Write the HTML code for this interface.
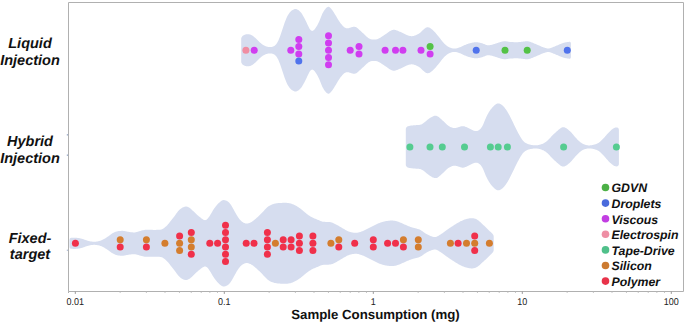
<!DOCTYPE html>
<html><head><meta charset="utf-8"><style>
html,body{margin:0;padding:0;background:#fff;}
body{width:685px;height:323px;overflow:hidden;}
svg{display:block;}
text{font-family:"Liberation Sans",sans-serif;text-rendering:geometricPrecision;}
.tk{font-size:9.9px;fill:#222;}
.lg{font-size:12.3px;font-weight:bold;font-style:italic;fill:#111;}
.yl text{font-size:14.5px;font-weight:bold;font-style:italic;fill:#111;}
.ti{font-size:13.25px;font-weight:bold;fill:#111;}
</style></head><body>
<svg width="685" height="323" viewBox="0 0 685 323">
<rect width="685" height="323" fill="#fff"/>
<path d="M241.20,38.61 L241.45,37.61 L241.70,37.13 L241.95,36.74 L242.20,36.40 L242.45,36.10 L242.70,35.85 L242.95,35.64 L243.20,35.42 L243.70,35.20 L244.20,34.99 L244.70,34.79 L245.20,34.60 L245.70,34.44 L246.20,34.32 L246.70,34.23 L247.20,34.18 L247.70,34.17 L248.20,34.19 L248.70,34.25 L249.20,34.34 L249.70,34.45 L250.20,34.58 L250.70,34.75 L251.20,34.95 L251.70,35.20 L252.20,35.48 L252.70,35.80 L253.20,36.16 L253.70,36.55 L254.20,36.97 L254.70,37.40 L255.20,37.86 L255.70,38.33 L256.20,38.82 L256.70,39.32 L257.20,39.82 L257.70,40.32 L258.20,40.82 L258.70,41.30 L259.20,41.77 L259.70,42.22 L260.20,42.67 L260.70,43.10 L261.20,43.51 L261.70,43.90 L262.20,44.27 L262.70,44.63 L263.20,44.96 L263.70,45.28 L264.20,45.56 L264.70,45.82 L265.20,46.04 L265.70,46.24 L266.20,46.42 L266.70,46.57 L267.20,46.70 L267.70,46.82 L268.20,46.91 L268.70,46.99 L269.20,47.04 L269.70,47.07 L270.20,47.07 L270.70,47.05 L271.20,47.00 L271.70,46.93 L272.20,46.83 L272.70,46.70 L273.20,46.54 L273.70,46.32 L274.20,46.04 L274.70,45.69 L275.20,45.27 L275.70,44.76 L276.20,44.17 L276.70,43.50 L277.20,42.73 L277.70,41.87 L278.20,40.89 L278.70,39.80 L279.20,38.61 L279.70,37.32 L280.20,35.95 L280.70,34.50 L281.20,33.01 L281.70,31.48 L282.20,29.94 L282.70,28.41 L283.20,26.89 L283.70,25.40 L284.20,23.95 L284.70,22.54 L285.20,21.19 L285.70,19.91 L286.20,18.69 L286.70,17.56 L287.20,16.52 L287.70,15.56 L288.20,14.68 L288.70,13.88 L289.20,13.15 L289.70,12.49 L290.20,11.91 L290.70,11.40 L291.20,10.95 L291.70,10.56 L292.20,10.21 L292.70,9.90 L293.20,9.63 L293.70,9.40 L294.20,9.22 L294.70,9.09 L295.20,9.02 L295.70,9.02 L296.20,9.08 L296.70,9.21 L297.20,9.40 L297.70,9.66 L298.20,9.96 L298.70,10.31 L299.20,10.70 L299.70,11.15 L300.20,11.65 L300.70,12.22 L301.20,12.86 L301.70,13.57 L302.20,14.35 L302.70,15.18 L303.20,16.04 L303.70,16.93 L304.20,17.85 L304.70,18.78 L305.20,19.73 L305.70,20.72 L306.20,21.75 L306.70,22.82 L307.20,23.90 L307.70,25.00 L308.20,26.07 L308.70,27.10 L309.20,28.05 L309.70,28.90 L310.20,29.62 L310.70,30.19 L311.20,30.60 L311.70,30.83 L312.20,30.90 L312.70,30.80 L313.20,30.56 L313.70,30.19 L314.20,29.72 L314.70,29.16 L315.20,28.52 L315.70,27.83 L316.20,27.08 L316.70,26.29 L317.20,25.45 L317.70,24.56 L318.20,23.60 L318.70,22.55 L319.20,21.43 L319.70,20.22 L320.20,18.96 L320.70,17.69 L321.20,16.43 L321.70,15.24 L322.20,14.12 L322.70,13.10 L323.20,12.18 L323.70,11.33 L324.20,10.55 L324.70,9.83 L325.20,9.17 L325.70,8.56 L326.20,8.02 L326.70,7.56 L327.20,7.20 L327.70,6.96 L328.20,6.83 L328.70,6.84 L329.20,6.99 L329.70,7.26 L330.20,7.66 L330.70,8.16 L331.20,8.75 L331.70,9.41 L332.20,10.11 L332.70,10.85 L333.20,11.60 L333.70,12.36 L334.20,13.12 L334.70,13.90 L335.20,14.70 L335.70,15.51 L336.20,16.35 L336.70,17.20 L337.20,18.07 L337.70,18.92 L338.20,19.76 L338.70,20.57 L339.20,21.35 L339.70,22.07 L340.20,22.76 L340.70,23.40 L341.20,24.02 L341.70,24.61 L342.20,25.18 L342.70,25.73 L343.20,26.25 L343.70,26.73 L344.20,27.16 L344.70,27.54 L345.20,27.85 L345.70,28.09 L346.20,28.25 L346.70,28.34 L347.20,28.37 L347.70,28.33 L348.20,28.26 L348.70,28.14 L349.20,28.00 L349.70,27.84 L350.20,27.67 L350.70,27.50 L351.20,27.32 L351.70,27.16 L352.20,27.01 L352.70,26.88 L353.20,26.79 L353.70,26.73 L354.20,26.72 L354.70,26.77 L355.20,26.88 L355.70,27.05 L356.20,27.28 L356.70,27.58 L357.20,27.92 L357.70,28.32 L358.20,28.74 L358.70,29.19 L359.20,29.66 L359.70,30.14 L360.20,30.62 L360.70,31.09 L361.20,31.55 L361.70,32.00 L362.20,32.44 L362.70,32.88 L363.20,33.33 L363.70,33.78 L364.20,34.25 L364.70,34.73 L365.20,35.21 L365.70,35.69 L366.20,36.17 L366.70,36.63 L367.20,37.08 L367.70,37.50 L368.20,37.89 L368.70,38.24 L369.20,38.55 L369.70,38.81 L370.20,39.03 L370.70,39.19 L371.20,39.31 L371.70,39.39 L372.20,39.44 L372.70,39.48 L373.20,39.50 L373.70,39.51 L374.20,39.52 L374.70,39.52 L375.20,39.51 L375.70,39.48 L376.20,39.42 L376.70,39.33 L377.20,39.20 L377.70,39.04 L378.20,38.83 L378.70,38.60 L379.20,38.33 L379.70,38.04 L380.20,37.73 L380.70,37.41 L381.20,37.07 L381.70,36.74 L382.20,36.41 L382.70,36.08 L383.20,35.75 L383.70,35.43 L384.20,35.11 L384.70,34.79 L385.20,34.45 L385.70,34.11 L386.20,33.75 L386.70,33.38 L387.20,33.01 L387.70,32.63 L388.20,32.26 L388.70,31.90 L389.20,31.55 L389.70,31.22 L390.20,30.91 L390.70,30.63 L391.20,30.39 L391.70,30.18 L392.20,30.01 L392.70,29.89 L393.20,29.82 L393.70,29.79 L394.20,29.80 L394.70,29.86 L395.20,29.95 L395.70,30.07 L396.20,30.22 L396.70,30.40 L397.20,30.58 L397.70,30.78 L398.20,30.99 L398.70,31.20 L399.20,31.42 L399.70,31.63 L400.20,31.86 L400.70,32.08 L401.20,32.32 L401.70,32.57 L402.20,32.82 L402.70,33.08 L403.20,33.35 L403.70,33.61 L404.20,33.87 L404.70,34.12 L405.20,34.35 L405.70,34.58 L406.20,34.79 L406.70,34.98 L407.20,35.16 L407.70,35.33 L408.20,35.50 L408.70,35.65 L409.20,35.79 L409.70,35.91 L410.20,36.01 L410.70,36.08 L411.20,36.13 L411.70,36.15 L412.20,36.13 L412.70,36.08 L413.20,36.00 L413.70,35.89 L414.20,35.75 L414.70,35.59 L415.20,35.42 L415.70,35.22 L416.20,35.02 L416.70,34.80 L417.20,34.57 L417.70,34.33 L418.20,34.06 L418.70,33.76 L419.20,33.43 L419.70,33.06 L420.20,32.65 L420.70,32.22 L421.20,31.76 L421.70,31.29 L422.20,30.80 L422.70,30.32 L423.20,29.84 L423.70,29.38 L424.20,28.95 L424.70,28.54 L425.20,28.18 L425.70,27.87 L426.20,27.61 L426.70,27.41 L427.20,27.29 L427.70,27.24 L428.20,27.27 L428.70,27.38 L429.20,27.55 L429.70,27.79 L430.20,28.08 L430.70,28.42 L431.20,28.79 L431.70,29.19 L432.20,29.60 L432.70,30.04 L433.20,30.49 L433.70,30.96 L434.20,31.45 L434.70,31.97 L435.20,32.52 L435.70,33.09 L436.20,33.68 L436.70,34.27 L437.20,34.88 L437.70,35.48 L438.20,36.09 L438.70,36.71 L439.20,37.33 L439.70,37.97 L440.20,38.61 L440.70,39.25 L441.20,39.89 L441.70,40.53 L442.20,41.15 L442.70,41.76 L443.20,42.35 L443.70,42.90 L444.20,43.43 L444.70,43.93 L445.20,44.41 L445.70,44.86 L446.20,45.29 L446.70,45.69 L447.20,46.07 L447.70,46.42 L448.20,46.74 L448.70,47.03 L449.20,47.28 L449.70,47.50 L450.20,47.70 L450.70,47.87 L451.20,48.03 L451.70,48.17 L452.20,48.29 L452.70,48.39 L453.20,48.47 L453.70,48.53 L454.20,48.55 L454.70,48.55 L455.20,48.52 L455.70,48.46 L456.20,48.38 L456.70,48.27 L457.20,48.14 L457.70,48.00 L458.20,47.84 L458.70,47.68 L459.20,47.51 L459.70,47.34 L460.20,47.15 L460.70,46.96 L461.20,46.76 L461.70,46.55 L462.20,46.32 L462.70,46.09 L463.20,45.85 L463.70,45.60 L464.20,45.35 L464.70,45.11 L465.20,44.88 L465.70,44.65 L466.20,44.43 L466.70,44.23 L467.20,44.05 L467.70,43.88 L468.20,43.72 L468.70,43.58 L469.20,43.44 L469.70,43.30 L470.20,43.17 L470.70,43.05 L471.20,42.93 L471.70,42.81 L472.20,42.71 L472.70,42.61 L473.20,42.52 L473.70,42.44 L474.20,42.37 L474.70,42.32 L475.20,42.28 L475.70,42.26 L476.20,42.26 L476.70,42.27 L477.20,42.31 L477.70,42.36 L478.20,42.43 L478.70,42.51 L479.20,42.60 L479.70,42.71 L480.20,42.82 L480.70,42.94 L481.20,43.07 L481.70,43.21 L482.20,43.35 L482.70,43.52 L483.20,43.70 L483.70,43.89 L484.20,44.09 L484.70,44.30 L485.20,44.50 L485.70,44.70 L486.20,44.88 L486.70,45.03 L487.20,45.15 L487.70,45.23 L488.20,45.28 L488.70,45.29 L489.20,45.26 L489.70,45.21 L490.20,45.12 L490.70,45.02 L491.20,44.90 L491.70,44.77 L492.20,44.63 L492.70,44.48 L493.20,44.33 L493.70,44.18 L494.20,44.03 L494.70,43.89 L495.20,43.74 L495.70,43.59 L496.20,43.44 L496.70,43.28 L497.20,43.11 L497.70,42.94 L498.20,42.77 L498.70,42.60 L499.20,42.43 L499.70,42.26 L500.20,42.10 L500.70,41.95 L501.20,41.80 L501.70,41.67 L502.20,41.56 L502.70,41.46 L503.20,41.38 L503.70,41.32 L504.20,41.28 L504.70,41.27 L505.20,41.28 L505.70,41.31 L506.20,41.36 L506.70,41.42 L507.20,41.49 L507.70,41.57 L508.20,41.66 L508.70,41.74 L509.20,41.82 L509.70,41.89 L510.20,41.95 L510.70,42.00 L511.20,42.03 L511.70,42.06 L512.20,42.09 L512.70,42.11 L513.20,42.12 L513.70,42.14 L514.20,42.15 L514.70,42.16 L515.20,42.17 L515.70,42.18 L516.20,42.18 L516.70,42.18 L517.20,42.18 L517.70,42.17 L518.20,42.14 L518.70,42.11 L519.20,42.07 L519.70,42.02 L520.20,41.97 L520.70,41.91 L521.20,41.85 L521.70,41.79 L522.20,41.72 L522.70,41.66 L523.20,41.60 L523.70,41.53 L524.20,41.47 L524.70,41.41 L525.20,41.36 L525.70,41.31 L526.20,41.28 L526.70,41.27 L527.20,41.27 L527.70,41.30 L528.20,41.36 L528.70,41.44 L529.20,41.55 L529.70,41.68 L530.20,41.83 L530.70,42.00 L531.20,42.19 L531.70,42.38 L532.20,42.59 L532.70,42.79 L533.20,43.00 L533.70,43.21 L534.20,43.42 L534.70,43.63 L535.20,43.83 L535.70,44.04 L536.20,44.25 L536.70,44.46 L537.20,44.68 L537.70,44.90 L538.20,45.13 L538.70,45.36 L539.20,45.59 L539.70,45.81 L540.20,46.04 L540.70,46.26 L541.20,46.47 L541.70,46.68 L542.20,46.88 L542.70,47.07 L543.20,47.26 L543.70,47.44 L544.20,47.62 L544.70,47.79 L545.20,47.96 L545.70,48.11 L546.20,48.24 L546.70,48.35 L547.20,48.43 L547.70,48.47 L548.20,48.48 L548.70,48.45 L549.20,48.38 L549.70,48.28 L550.20,48.15 L550.70,48.00 L551.20,47.83 L551.70,47.65 L552.20,47.46 L552.70,47.26 L553.20,47.06 L553.70,46.87 L554.20,46.67 L554.70,46.47 L555.20,46.26 L555.70,46.05 L556.20,45.83 L556.70,45.61 L557.20,45.38 L557.70,45.16 L558.20,44.93 L558.70,44.71 L559.20,44.50 L559.70,44.29 L560.20,44.09 L560.70,43.89 L561.20,43.71 L561.70,43.53 L562.20,43.35 L562.70,43.18 L563.20,43.02 L563.70,42.86 L564.20,42.71 L564.70,42.58 L565.20,42.45 L565.70,42.34 L566.20,42.24 L566.70,42.15 L567.20,42.07 L567.70,41.99 L568.20,41.93 L568.70,41.88 L568.90,41.83 L569.15,41.79 L569.40,41.77 L569.65,41.78 L569.90,41.83 L570.15,41.94 L570.40,42.12 L570.65,42.41 L570.90,43.26 L570.90,57.24 L570.65,58.09 L570.40,58.38 L570.15,58.56 L569.90,58.67 L569.65,58.72 L569.40,58.73 L569.15,58.71 L568.90,58.67 L568.70,58.62 L568.20,58.57 L567.70,58.51 L567.20,58.43 L566.70,58.35 L566.20,58.26 L565.70,58.16 L565.20,58.05 L564.70,57.92 L564.20,57.79 L563.70,57.64 L563.20,57.48 L562.70,57.32 L562.20,57.15 L561.70,56.97 L561.20,56.79 L560.70,56.61 L560.20,56.41 L559.70,56.21 L559.20,56.00 L558.70,55.79 L558.20,55.57 L557.70,55.34 L557.20,55.12 L556.70,54.89 L556.20,54.67 L555.70,54.45 L555.20,54.24 L554.70,54.03 L554.20,53.83 L553.70,53.63 L553.20,53.44 L552.70,53.24 L552.20,53.04 L551.70,52.85 L551.20,52.67 L550.70,52.50 L550.20,52.35 L549.70,52.22 L549.20,52.12 L548.70,52.05 L548.20,52.02 L547.70,52.03 L547.20,52.07 L546.70,52.15 L546.20,52.26 L545.70,52.39 L545.20,52.54 L544.70,52.71 L544.20,52.88 L543.70,53.06 L543.20,53.24 L542.70,53.43 L542.20,53.62 L541.70,53.82 L541.20,54.03 L540.70,54.24 L540.20,54.46 L539.70,54.69 L539.20,54.91 L538.70,55.14 L538.20,55.37 L537.70,55.60 L537.20,55.82 L536.70,56.04 L536.20,56.25 L535.70,56.46 L535.20,56.67 L534.70,56.87 L534.20,57.08 L533.70,57.29 L533.20,57.50 L532.70,57.71 L532.20,57.91 L531.70,58.12 L531.20,58.31 L530.70,58.50 L530.20,58.67 L529.70,58.82 L529.20,58.95 L528.70,59.06 L528.20,59.14 L527.70,59.20 L527.20,59.23 L526.70,59.23 L526.20,59.22 L525.70,59.19 L525.20,59.14 L524.70,59.09 L524.20,59.03 L523.70,58.97 L523.20,58.90 L522.70,58.84 L522.20,58.78 L521.70,58.71 L521.20,58.65 L520.70,58.59 L520.20,58.53 L519.70,58.48 L519.20,58.43 L518.70,58.39 L518.20,58.36 L517.70,58.33 L517.20,58.32 L516.70,58.32 L516.20,58.32 L515.70,58.32 L515.20,58.33 L514.70,58.34 L514.20,58.35 L513.70,58.36 L513.20,58.38 L512.70,58.39 L512.20,58.41 L511.70,58.44 L511.20,58.47 L510.70,58.50 L510.20,58.55 L509.70,58.61 L509.20,58.68 L508.70,58.76 L508.20,58.84 L507.70,58.93 L507.20,59.01 L506.70,59.08 L506.20,59.14 L505.70,59.19 L505.20,59.22 L504.70,59.23 L504.20,59.22 L503.70,59.18 L503.20,59.12 L502.70,59.04 L502.20,58.94 L501.70,58.83 L501.20,58.70 L500.70,58.55 L500.20,58.40 L499.70,58.24 L499.20,58.07 L498.70,57.90 L498.20,57.73 L497.70,57.56 L497.20,57.39 L496.70,57.22 L496.20,57.06 L495.70,56.91 L495.20,56.76 L494.70,56.61 L494.20,56.47 L493.70,56.32 L493.20,56.17 L492.70,56.02 L492.20,55.87 L491.70,55.73 L491.20,55.60 L490.70,55.48 L490.20,55.38 L489.70,55.29 L489.20,55.24 L488.70,55.21 L488.20,55.22 L487.70,55.27 L487.20,55.35 L486.70,55.47 L486.20,55.62 L485.70,55.80 L485.20,56.00 L484.70,56.20 L484.20,56.41 L483.70,56.61 L483.20,56.80 L482.70,56.98 L482.20,57.15 L481.70,57.29 L481.20,57.43 L480.70,57.56 L480.20,57.68 L479.70,57.79 L479.20,57.90 L478.70,57.99 L478.20,58.07 L477.70,58.14 L477.20,58.19 L476.70,58.23 L476.20,58.24 L475.70,58.24 L475.20,58.22 L474.70,58.18 L474.20,58.13 L473.70,58.06 L473.20,57.98 L472.70,57.89 L472.20,57.79 L471.70,57.69 L471.20,57.57 L470.70,57.45 L470.20,57.33 L469.70,57.20 L469.20,57.06 L468.70,56.92 L468.20,56.78 L467.70,56.62 L467.20,56.45 L466.70,56.27 L466.20,56.07 L465.70,55.85 L465.20,55.62 L464.70,55.39 L464.20,55.15 L463.70,54.90 L463.20,54.65 L462.70,54.41 L462.20,54.18 L461.70,53.95 L461.20,53.74 L460.70,53.54 L460.20,53.35 L459.70,53.16 L459.20,52.99 L458.70,52.82 L458.20,52.66 L457.70,52.50 L457.20,52.36 L456.70,52.23 L456.20,52.12 L455.70,52.04 L455.20,51.98 L454.70,51.95 L454.20,51.95 L453.70,51.97 L453.20,52.03 L452.70,52.11 L452.20,52.21 L451.70,52.33 L451.20,52.47 L450.70,52.63 L450.20,52.80 L449.70,53.00 L449.20,53.22 L448.70,53.47 L448.20,53.76 L447.70,54.08 L447.20,54.43 L446.70,54.81 L446.20,55.21 L445.70,55.64 L445.20,56.09 L444.70,56.57 L444.20,57.07 L443.70,57.60 L443.20,58.15 L442.70,58.74 L442.20,59.35 L441.70,59.97 L441.20,60.61 L440.70,61.25 L440.20,61.89 L439.70,62.53 L439.20,63.17 L438.70,63.79 L438.20,64.41 L437.70,65.02 L437.20,65.62 L436.70,66.23 L436.20,66.82 L435.70,67.41 L435.20,67.98 L434.70,68.53 L434.20,69.05 L433.70,69.54 L433.20,70.01 L432.70,70.46 L432.20,70.90 L431.70,71.31 L431.20,71.71 L430.70,72.08 L430.20,72.42 L429.70,72.71 L429.20,72.95 L428.70,73.12 L428.20,73.23 L427.70,73.26 L427.20,73.21 L426.70,73.09 L426.20,72.89 L425.70,72.63 L425.20,72.32 L424.70,71.96 L424.20,71.55 L423.70,71.12 L423.20,70.66 L422.70,70.18 L422.20,69.70 L421.70,69.21 L421.20,68.74 L420.70,68.28 L420.20,67.85 L419.70,67.44 L419.20,67.07 L418.70,66.74 L418.20,66.44 L417.70,66.17 L417.20,65.93 L416.70,65.70 L416.20,65.48 L415.70,65.28 L415.20,65.08 L414.70,64.91 L414.20,64.75 L413.70,64.61 L413.20,64.50 L412.70,64.42 L412.20,64.37 L411.70,64.35 L411.20,64.37 L410.70,64.42 L410.20,64.49 L409.70,64.59 L409.20,64.71 L408.70,64.85 L408.20,65.00 L407.70,65.17 L407.20,65.34 L406.70,65.52 L406.20,65.71 L405.70,65.92 L405.20,66.15 L404.70,66.38 L404.20,66.63 L403.70,66.89 L403.20,67.15 L402.70,67.42 L402.20,67.68 L401.70,67.93 L401.20,68.18 L400.70,68.42 L400.20,68.64 L399.70,68.87 L399.20,69.08 L398.70,69.30 L398.20,69.51 L397.70,69.72 L397.20,69.92 L396.70,70.10 L396.20,70.28 L395.70,70.43 L395.20,70.55 L394.70,70.64 L394.20,70.70 L393.70,70.71 L393.20,70.68 L392.70,70.61 L392.20,70.49 L391.70,70.32 L391.20,70.11 L390.70,69.87 L390.20,69.59 L389.70,69.28 L389.20,68.95 L388.70,68.60 L388.20,68.24 L387.70,67.87 L387.20,67.49 L386.70,67.12 L386.20,66.75 L385.70,66.39 L385.20,66.05 L384.70,65.71 L384.20,65.39 L383.70,65.07 L383.20,64.75 L382.70,64.42 L382.20,64.09 L381.70,63.76 L381.20,63.43 L380.70,63.09 L380.20,62.77 L379.70,62.46 L379.20,62.17 L378.70,61.90 L378.20,61.67 L377.70,61.46 L377.20,61.30 L376.70,61.17 L376.20,61.08 L375.70,61.02 L375.20,60.99 L374.70,60.98 L374.20,60.98 L373.70,60.99 L373.20,61.00 L372.70,61.02 L372.20,61.06 L371.70,61.11 L371.20,61.19 L370.70,61.31 L370.20,61.47 L369.70,61.69 L369.20,61.95 L368.70,62.26 L368.20,62.61 L367.70,63.00 L367.20,63.42 L366.70,63.87 L366.20,64.33 L365.70,64.81 L365.20,65.29 L364.70,65.77 L364.20,66.25 L363.70,66.72 L363.20,67.17 L362.70,67.62 L362.20,68.06 L361.70,68.50 L361.20,68.95 L360.70,69.41 L360.20,69.88 L359.70,70.36 L359.20,70.84 L358.70,71.31 L358.20,71.76 L357.70,72.18 L357.20,72.58 L356.70,72.92 L356.20,73.22 L355.70,73.45 L355.20,73.62 L354.70,73.73 L354.20,73.78 L353.70,73.77 L353.20,73.71 L352.70,73.62 L352.20,73.49 L351.70,73.34 L351.20,73.18 L350.70,73.00 L350.20,72.83 L349.70,72.66 L349.20,72.50 L348.70,72.36 L348.20,72.24 L347.70,72.17 L347.20,72.13 L346.70,72.16 L346.20,72.25 L345.70,72.41 L345.20,72.65 L344.70,72.96 L344.20,73.34 L343.70,73.77 L343.20,74.25 L342.70,74.77 L342.20,75.32 L341.70,75.89 L341.20,76.48 L340.70,77.10 L340.20,77.74 L339.70,78.43 L339.20,79.15 L338.70,79.93 L338.20,80.74 L337.70,81.58 L337.20,82.43 L336.70,83.30 L336.20,84.15 L335.70,84.99 L335.20,85.80 L334.70,86.60 L334.20,87.38 L333.70,88.14 L333.20,88.90 L332.70,89.65 L332.20,90.39 L331.70,91.09 L331.20,91.75 L330.70,92.34 L330.20,92.84 L329.70,93.24 L329.20,93.51 L328.70,93.66 L328.20,93.67 L327.70,93.54 L327.20,93.30 L326.70,92.94 L326.20,92.48 L325.70,91.94 L325.20,91.33 L324.70,90.67 L324.20,89.95 L323.70,89.17 L323.20,88.32 L322.70,87.40 L322.20,86.38 L321.70,85.26 L321.20,84.07 L320.70,82.81 L320.20,81.54 L319.70,80.28 L319.20,79.07 L318.70,77.95 L318.20,76.90 L317.70,75.94 L317.20,75.05 L316.70,74.21 L316.20,73.42 L315.70,72.67 L315.20,71.98 L314.70,71.34 L314.20,70.78 L313.70,70.31 L313.20,69.94 L312.70,69.70 L312.20,69.60 L311.70,69.67 L311.20,69.90 L310.70,70.31 L310.20,70.88 L309.70,71.60 L309.20,72.45 L308.70,73.40 L308.20,74.43 L307.70,75.50 L307.20,76.60 L306.70,77.68 L306.20,78.75 L305.70,79.78 L305.20,80.77 L304.70,81.72 L304.20,82.65 L303.70,83.57 L303.20,84.46 L302.70,85.32 L302.20,86.15 L301.70,86.93 L301.20,87.64 L300.70,88.28 L300.20,88.85 L299.70,89.35 L299.20,89.80 L298.70,90.19 L298.20,90.54 L297.70,90.84 L297.20,91.10 L296.70,91.29 L296.20,91.42 L295.70,91.48 L295.20,91.48 L294.70,91.41 L294.20,91.28 L293.70,91.10 L293.20,90.87 L292.70,90.60 L292.20,90.29 L291.70,89.94 L291.20,89.55 L290.70,89.10 L290.20,88.59 L289.70,88.01 L289.20,87.35 L288.70,86.62 L288.20,85.82 L287.70,84.94 L287.20,83.98 L286.70,82.94 L286.20,81.81 L285.70,80.59 L285.20,79.31 L284.70,77.96 L284.20,76.55 L283.70,75.10 L283.20,73.61 L282.70,72.09 L282.20,70.56 L281.70,69.02 L281.20,67.49 L280.70,66.00 L280.20,64.55 L279.70,63.18 L279.20,61.89 L278.70,60.70 L278.20,59.61 L277.70,58.63 L277.20,57.77 L276.70,57.00 L276.20,56.33 L275.70,55.74 L275.20,55.23 L274.70,54.81 L274.20,54.46 L273.70,54.18 L273.20,53.96 L272.70,53.80 L272.20,53.67 L271.70,53.57 L271.20,53.50 L270.70,53.45 L270.20,53.43 L269.70,53.43 L269.20,53.46 L268.70,53.51 L268.20,53.59 L267.70,53.68 L267.20,53.80 L266.70,53.93 L266.20,54.08 L265.70,54.26 L265.20,54.46 L264.70,54.68 L264.20,54.94 L263.70,55.22 L263.20,55.54 L262.70,55.87 L262.20,56.23 L261.70,56.60 L261.20,56.99 L260.70,57.40 L260.20,57.83 L259.70,58.28 L259.20,58.73 L258.70,59.20 L258.20,59.68 L257.70,60.18 L257.20,60.68 L256.70,61.18 L256.20,61.68 L255.70,62.17 L255.20,62.64 L254.70,63.10 L254.20,63.53 L253.70,63.95 L253.20,64.34 L252.70,64.70 L252.20,65.02 L251.70,65.30 L251.20,65.55 L250.70,65.75 L250.20,65.92 L249.70,66.05 L249.20,66.16 L248.70,66.25 L248.20,66.31 L247.70,66.33 L247.20,66.32 L246.70,66.27 L246.20,66.18 L245.70,66.06 L245.20,65.90 L244.70,65.71 L244.20,65.51 L243.70,65.30 L243.20,65.08 L242.95,64.86 L242.70,64.65 L242.45,64.40 L242.20,64.10 L241.95,63.76 L241.70,63.37 L241.45,62.89 L241.20,61.89Z" fill="#d6ddef"/>
<path d="M405.80,128.86 L406.05,127.92 L406.30,127.51 L406.55,127.19 L406.80,126.93 L407.05,126.72 L407.30,126.55 L407.55,126.41 L407.80,126.27 L408.30,126.13 L408.80,126.01 L409.30,125.89 L409.80,125.79 L410.30,125.70 L410.80,125.62 L411.30,125.55 L411.80,125.49 L412.30,125.44 L412.80,125.38 L413.30,125.34 L413.80,125.29 L414.30,125.25 L414.80,125.22 L415.30,125.18 L415.80,125.15 L416.30,125.12 L416.80,125.10 L417.30,125.07 L417.80,125.03 L418.30,125.00 L418.80,124.95 L419.30,124.90 L419.80,124.82 L420.30,124.72 L420.80,124.58 L421.30,124.40 L421.80,124.17 L422.30,123.89 L422.80,123.57 L423.30,123.21 L423.80,122.83 L424.30,122.44 L424.80,122.04 L425.30,121.64 L425.80,121.23 L426.30,120.82 L426.80,120.41 L427.30,119.99 L427.80,119.58 L428.30,119.18 L428.80,118.80 L429.30,118.43 L429.80,118.09 L430.30,117.77 L430.80,117.47 L431.30,117.18 L431.80,116.91 L432.30,116.65 L432.80,116.41 L433.30,116.20 L433.80,116.01 L434.30,115.86 L434.80,115.76 L435.30,115.70 L435.80,115.71 L436.30,115.78 L436.80,115.92 L437.30,116.13 L437.80,116.40 L438.30,116.73 L438.80,117.10 L439.30,117.51 L439.80,117.94 L440.30,118.38 L440.80,118.83 L441.30,119.28 L441.80,119.73 L442.30,120.18 L442.80,120.63 L443.30,121.10 L443.80,121.57 L444.30,122.06 L444.80,122.56 L445.30,123.06 L445.80,123.55 L446.30,124.03 L446.80,124.49 L447.30,124.93 L447.80,125.34 L448.30,125.71 L448.80,126.05 L449.30,126.36 L449.80,126.65 L450.30,126.90 L450.80,127.14 L451.30,127.36 L451.80,127.56 L452.30,127.73 L452.80,127.87 L453.30,127.98 L453.80,128.04 L454.30,128.07 L454.80,128.06 L455.30,128.01 L455.80,127.93 L456.30,127.83 L456.80,127.71 L457.30,127.58 L457.80,127.43 L458.30,127.28 L458.80,127.12 L459.30,126.96 L459.80,126.79 L460.30,126.62 L460.80,126.47 L461.30,126.34 L461.80,126.23 L462.30,126.17 L462.80,126.15 L463.30,126.17 L463.80,126.25 L464.30,126.36 L464.80,126.51 L465.30,126.69 L465.80,126.90 L466.30,127.12 L466.80,127.36 L467.30,127.60 L467.80,127.84 L468.30,128.07 L468.80,128.31 L469.30,128.54 L469.80,128.77 L470.30,129.01 L470.80,129.25 L471.30,129.50 L471.80,129.74 L472.30,129.98 L472.80,130.22 L473.30,130.44 L473.80,130.64 L474.30,130.81 L474.80,130.95 L475.30,131.06 L475.80,131.11 L476.30,131.12 L476.80,131.07 L477.30,130.95 L477.80,130.77 L478.30,130.52 L478.80,130.21 L479.30,129.85 L479.80,129.44 L480.30,128.97 L480.80,128.43 L481.30,127.82 L481.80,127.10 L482.30,126.26 L482.80,125.30 L483.30,124.22 L483.80,123.05 L484.30,121.82 L484.80,120.58 L485.30,119.35 L485.80,118.17 L486.30,117.05 L486.80,116.00 L487.30,115.01 L487.80,114.07 L488.30,113.18 L488.80,112.33 L489.30,111.52 L489.80,110.75 L490.30,110.04 L490.80,109.36 L491.30,108.74 L491.80,108.14 L492.30,107.58 L492.80,107.04 L493.30,106.52 L493.80,106.02 L494.30,105.55 L494.80,105.10 L495.30,104.69 L495.80,104.33 L496.30,104.02 L496.80,103.77 L497.30,103.59 L497.80,103.47 L498.30,103.44 L498.80,103.47 L499.30,103.58 L499.80,103.76 L500.30,103.99 L500.80,104.27 L501.30,104.59 L501.80,104.95 L502.30,105.34 L502.80,105.78 L503.30,106.25 L503.80,106.78 L504.30,107.35 L504.80,107.97 L505.30,108.63 L505.80,109.32 L506.30,110.05 L506.80,110.81 L507.30,111.59 L507.80,112.42 L508.30,113.27 L508.80,114.16 L509.30,115.09 L509.80,116.04 L510.30,117.01 L510.80,118.00 L511.30,119.00 L511.80,120.01 L512.30,121.03 L512.80,122.06 L513.30,123.09 L513.80,124.13 L514.30,125.17 L514.80,126.20 L515.30,127.24 L515.80,128.26 L516.30,129.26 L516.80,130.26 L517.30,131.24 L517.80,132.20 L518.30,133.15 L518.80,134.07 L519.30,134.97 L519.80,135.86 L520.30,136.72 L520.80,137.56 L521.30,138.37 L521.80,139.14 L522.30,139.86 L522.80,140.51 L523.30,141.09 L523.80,141.60 L524.30,142.03 L524.80,142.41 L525.30,142.75 L525.80,143.05 L526.30,143.33 L526.80,143.58 L527.30,143.80 L527.80,144.01 L528.30,144.19 L528.80,144.35 L529.30,144.49 L529.80,144.62 L530.30,144.73 L530.80,144.83 L531.30,144.92 L531.80,145.00 L532.30,145.07 L532.80,145.14 L533.30,145.20 L533.80,145.25 L534.30,145.30 L534.80,145.33 L535.30,145.34 L535.80,145.35 L536.30,145.33 L536.80,145.30 L537.30,145.24 L537.80,145.17 L538.30,145.08 L538.80,144.97 L539.30,144.85 L539.80,144.72 L540.30,144.58 L540.80,144.43 L541.30,144.26 L541.80,144.08 L542.30,143.88 L542.80,143.67 L543.30,143.43 L543.80,143.18 L544.30,142.90 L544.80,142.61 L545.30,142.29 L545.80,141.95 L546.30,141.57 L546.80,141.17 L547.30,140.73 L547.80,140.25 L548.30,139.76 L548.80,139.24 L549.30,138.71 L549.80,138.18 L550.30,137.65 L550.80,137.13 L551.30,136.61 L551.80,136.10 L552.30,135.60 L552.80,135.09 L553.30,134.59 L553.80,134.10 L554.30,133.61 L554.80,133.14 L555.30,132.68 L555.80,132.22 L556.30,131.78 L556.80,131.34 L557.30,130.90 L557.80,130.47 L558.30,130.03 L558.80,129.60 L559.30,129.18 L559.80,128.78 L560.30,128.41 L560.80,128.07 L561.30,127.78 L561.80,127.55 L562.30,127.37 L562.80,127.26 L563.30,127.21 L563.80,127.24 L564.30,127.33 L564.80,127.48 L565.30,127.69 L565.80,127.95 L566.30,128.26 L566.80,128.60 L567.30,128.97 L567.80,129.37 L568.30,129.78 L568.80,130.21 L569.30,130.65 L569.80,131.10 L570.30,131.57 L570.80,132.06 L571.30,132.58 L571.80,133.12 L572.30,133.68 L572.80,134.27 L573.30,134.86 L573.80,135.46 L574.30,136.05 L574.80,136.63 L575.30,137.20 L575.80,137.77 L576.30,138.32 L576.80,138.86 L577.30,139.39 L577.80,139.90 L578.30,140.39 L578.80,140.87 L579.30,141.31 L579.80,141.73 L580.30,142.13 L580.80,142.51 L581.30,142.86 L581.80,143.19 L582.30,143.50 L582.80,143.78 L583.30,144.03 L583.80,144.25 L584.30,144.45 L584.80,144.62 L585.30,144.78 L585.80,144.92 L586.30,145.05 L586.80,145.17 L587.30,145.26 L587.80,145.34 L588.30,145.39 L588.80,145.42 L589.30,145.42 L589.80,145.40 L590.30,145.36 L590.80,145.30 L591.30,145.22 L591.80,145.13 L592.30,145.04 L592.80,144.93 L593.30,144.82 L593.80,144.71 L594.30,144.59 L594.80,144.46 L595.30,144.32 L595.80,144.16 L596.30,143.99 L596.80,143.80 L597.30,143.58 L597.80,143.34 L598.30,143.05 L598.80,142.73 L599.30,142.37 L599.80,141.97 L600.30,141.53 L600.80,141.07 L601.30,140.59 L601.80,140.10 L602.30,139.59 L602.80,139.07 L603.30,138.54 L603.80,138.00 L604.30,137.45 L604.80,136.88 L605.30,136.30 L605.80,135.71 L606.30,135.13 L606.80,134.56 L607.30,134.00 L607.80,133.45 L608.30,132.91 L608.80,132.39 L609.30,131.88 L609.80,131.39 L610.30,130.91 L610.80,130.46 L611.30,130.02 L611.80,129.60 L612.30,129.20 L612.80,128.82 L613.30,128.46 L613.80,128.15 L614.30,127.88 L614.80,127.68 L615.30,127.53 L615.80,127.45 L616.30,127.41 L616.80,127.41 L616.90,127.44 L617.15,127.48 L617.40,127.55 L617.65,127.66 L617.90,127.82 L618.15,128.05 L618.40,128.34 L618.65,128.73 L618.90,129.67 L618.90,164.13 L618.65,165.07 L618.40,165.46 L618.15,165.75 L617.90,165.98 L617.65,166.14 L617.40,166.25 L617.15,166.32 L616.90,166.36 L616.80,166.39 L616.30,166.39 L615.80,166.35 L615.30,166.27 L614.80,166.12 L614.30,165.92 L613.80,165.65 L613.30,165.34 L612.80,164.98 L612.30,164.60 L611.80,164.20 L611.30,163.78 L610.80,163.34 L610.30,162.89 L609.80,162.41 L609.30,161.92 L608.80,161.41 L608.30,160.89 L607.80,160.35 L607.30,159.80 L606.80,159.24 L606.30,158.67 L605.80,158.09 L605.30,157.50 L604.80,156.92 L604.30,156.35 L603.80,155.80 L603.30,155.26 L602.80,154.73 L602.30,154.21 L601.80,153.70 L601.30,153.21 L600.80,152.73 L600.30,152.27 L599.80,151.83 L599.30,151.43 L598.80,151.07 L598.30,150.75 L597.80,150.46 L597.30,150.22 L596.80,150.00 L596.30,149.81 L595.80,149.64 L595.30,149.48 L594.80,149.34 L594.30,149.21 L593.80,149.09 L593.30,148.98 L592.80,148.87 L592.30,148.76 L591.80,148.67 L591.30,148.58 L590.80,148.50 L590.30,148.44 L589.80,148.40 L589.30,148.38 L588.80,148.38 L588.30,148.41 L587.80,148.46 L587.30,148.54 L586.80,148.63 L586.30,148.75 L585.80,148.88 L585.30,149.02 L584.80,149.18 L584.30,149.35 L583.80,149.55 L583.30,149.77 L582.80,150.02 L582.30,150.30 L581.80,150.61 L581.30,150.94 L580.80,151.29 L580.30,151.67 L579.80,152.07 L579.30,152.49 L578.80,152.93 L578.30,153.41 L577.80,153.90 L577.30,154.41 L576.80,154.94 L576.30,155.48 L575.80,156.03 L575.30,156.60 L574.80,157.17 L574.30,157.75 L573.80,158.34 L573.30,158.94 L572.80,159.53 L572.30,160.12 L571.80,160.68 L571.30,161.22 L570.80,161.74 L570.30,162.23 L569.80,162.70 L569.30,163.15 L568.80,163.59 L568.30,164.02 L567.80,164.43 L567.30,164.83 L566.80,165.20 L566.30,165.54 L565.80,165.85 L565.30,166.11 L564.80,166.32 L564.30,166.47 L563.80,166.56 L563.30,166.59 L562.80,166.54 L562.30,166.43 L561.80,166.25 L561.30,166.02 L560.80,165.73 L560.30,165.39 L559.80,165.02 L559.30,164.62 L558.80,164.20 L558.30,163.77 L557.80,163.33 L557.30,162.90 L556.80,162.46 L556.30,162.02 L555.80,161.58 L555.30,161.12 L554.80,160.66 L554.30,160.19 L553.80,159.70 L553.30,159.21 L552.80,158.71 L552.30,158.20 L551.80,157.70 L551.30,157.19 L550.80,156.67 L550.30,156.15 L549.80,155.62 L549.30,155.09 L548.80,154.56 L548.30,154.04 L547.80,153.55 L547.30,153.07 L546.80,152.63 L546.30,152.23 L545.80,151.85 L545.30,151.51 L544.80,151.19 L544.30,150.90 L543.80,150.62 L543.30,150.37 L542.80,150.13 L542.30,149.92 L541.80,149.72 L541.30,149.54 L540.80,149.37 L540.30,149.22 L539.80,149.08 L539.30,148.95 L538.80,148.83 L538.30,148.72 L537.80,148.63 L537.30,148.56 L536.80,148.50 L536.30,148.47 L535.80,148.45 L535.30,148.46 L534.80,148.47 L534.30,148.50 L533.80,148.55 L533.30,148.60 L532.80,148.66 L532.30,148.73 L531.80,148.80 L531.30,148.88 L530.80,148.97 L530.30,149.07 L529.80,149.18 L529.30,149.31 L528.80,149.45 L528.30,149.61 L527.80,149.79 L527.30,150.00 L526.80,150.22 L526.30,150.47 L525.80,150.75 L525.30,151.05 L524.80,151.39 L524.30,151.77 L523.80,152.20 L523.30,152.71 L522.80,153.29 L522.30,153.94 L521.80,154.66 L521.30,155.43 L520.80,156.24 L520.30,157.08 L519.80,157.94 L519.30,158.83 L518.80,159.73 L518.30,160.65 L517.80,161.60 L517.30,162.56 L516.80,163.54 L516.30,164.54 L515.80,165.54 L515.30,166.56 L514.80,167.60 L514.30,168.63 L513.80,169.67 L513.30,170.71 L512.80,171.74 L512.30,172.77 L511.80,173.79 L511.30,174.80 L510.80,175.80 L510.30,176.79 L509.80,177.76 L509.30,178.71 L508.80,179.64 L508.30,180.53 L507.80,181.38 L507.30,182.21 L506.80,182.99 L506.30,183.75 L505.80,184.48 L505.30,185.17 L504.80,185.83 L504.30,186.45 L503.80,187.02 L503.30,187.55 L502.80,188.02 L502.30,188.46 L501.80,188.85 L501.30,189.21 L500.80,189.53 L500.30,189.81 L499.80,190.04 L499.30,190.22 L498.80,190.33 L498.30,190.36 L497.80,190.33 L497.30,190.21 L496.80,190.03 L496.30,189.78 L495.80,189.47 L495.30,189.11 L494.80,188.70 L494.30,188.25 L493.80,187.78 L493.30,187.28 L492.80,186.76 L492.30,186.22 L491.80,185.66 L491.30,185.06 L490.80,184.44 L490.30,183.76 L489.80,183.05 L489.30,182.28 L488.80,181.47 L488.30,180.62 L487.80,179.73 L487.30,178.79 L486.80,177.80 L486.30,176.75 L485.80,175.63 L485.30,174.45 L484.80,173.22 L484.30,171.98 L483.80,170.75 L483.30,169.58 L482.80,168.50 L482.30,167.54 L481.80,166.70 L481.30,165.98 L480.80,165.37 L480.30,164.83 L479.80,164.36 L479.30,163.95 L478.80,163.59 L478.30,163.28 L477.80,163.03 L477.30,162.85 L476.80,162.73 L476.30,162.68 L475.80,162.69 L475.30,162.74 L474.80,162.85 L474.30,162.99 L473.80,163.16 L473.30,163.36 L472.80,163.58 L472.30,163.82 L471.80,164.06 L471.30,164.30 L470.80,164.55 L470.30,164.79 L469.80,165.03 L469.30,165.26 L468.80,165.49 L468.30,165.73 L467.80,165.96 L467.30,166.20 L466.80,166.44 L466.30,166.68 L465.80,166.90 L465.30,167.11 L464.80,167.29 L464.30,167.44 L463.80,167.55 L463.30,167.63 L462.80,167.65 L462.30,167.63 L461.80,167.57 L461.30,167.46 L460.80,167.33 L460.30,167.18 L459.80,167.01 L459.30,166.84 L458.80,166.68 L458.30,166.52 L457.80,166.37 L457.30,166.22 L456.80,166.09 L456.30,165.97 L455.80,165.87 L455.30,165.79 L454.80,165.74 L454.30,165.73 L453.80,165.76 L453.30,165.82 L452.80,165.93 L452.30,166.07 L451.80,166.24 L451.30,166.44 L450.80,166.66 L450.30,166.90 L449.80,167.15 L449.30,167.44 L448.80,167.75 L448.30,168.09 L447.80,168.46 L447.30,168.87 L446.80,169.31 L446.30,169.77 L445.80,170.25 L445.30,170.74 L444.80,171.24 L444.30,171.74 L443.80,172.23 L443.30,172.70 L442.80,173.17 L442.30,173.62 L441.80,174.07 L441.30,174.52 L440.80,174.97 L440.30,175.42 L439.80,175.86 L439.30,176.29 L438.80,176.70 L438.30,177.07 L437.80,177.40 L437.30,177.67 L436.80,177.88 L436.30,178.02 L435.80,178.09 L435.30,178.10 L434.80,178.04 L434.30,177.94 L433.80,177.79 L433.30,177.60 L432.80,177.39 L432.30,177.15 L431.80,176.89 L431.30,176.62 L430.80,176.33 L430.30,176.03 L429.80,175.71 L429.30,175.37 L428.80,175.00 L428.30,174.62 L427.80,174.22 L427.30,173.81 L426.80,173.39 L426.30,172.98 L425.80,172.57 L425.30,172.16 L424.80,171.76 L424.30,171.36 L423.80,170.97 L423.30,170.59 L422.80,170.23 L422.30,169.91 L421.80,169.63 L421.30,169.40 L420.80,169.22 L420.30,169.08 L419.80,168.98 L419.30,168.90 L418.80,168.85 L418.30,168.80 L417.80,168.77 L417.30,168.73 L416.80,168.70 L416.30,168.68 L415.80,168.65 L415.30,168.62 L414.80,168.58 L414.30,168.55 L413.80,168.51 L413.30,168.46 L412.80,168.42 L412.30,168.36 L411.80,168.31 L411.30,168.25 L410.80,168.18 L410.30,168.10 L409.80,168.01 L409.30,167.91 L408.80,167.79 L408.30,167.67 L407.80,167.53 L407.55,167.39 L407.30,167.25 L407.05,167.08 L406.80,166.87 L406.55,166.61 L406.30,166.29 L406.05,165.88 L405.80,164.94Z" fill="#d6ddef"/>
<path d="M69.50,239.57 L69.75,238.69 L70.00,238.37 L70.25,238.15 L70.50,237.99 L70.75,237.89 L71.00,237.82 L71.25,237.79 L71.50,237.77 L72.00,237.75 L72.50,237.73 L73.00,237.72 L73.50,237.71 L74.00,237.71 L74.50,237.71 L75.00,237.71 L75.50,237.72 L76.00,237.74 L76.50,237.77 L77.00,237.82 L77.50,237.88 L78.00,237.95 L78.50,238.03 L79.00,238.11 L79.50,238.21 L80.00,238.31 L80.50,238.42 L81.00,238.54 L81.50,238.67 L82.00,238.81 L82.50,238.96 L83.00,239.12 L83.50,239.29 L84.00,239.47 L84.50,239.65 L85.00,239.83 L85.50,240.01 L86.00,240.18 L86.50,240.35 L87.00,240.51 L87.50,240.67 L88.00,240.82 L88.50,240.96 L89.00,241.09 L89.50,241.22 L90.00,241.32 L90.50,241.41 L91.00,241.49 L91.50,241.56 L92.00,241.62 L92.50,241.67 L93.00,241.71 L93.50,241.73 L94.00,241.75 L94.50,241.75 L95.00,241.74 L95.50,241.71 L96.00,241.66 L96.50,241.60 L97.00,241.52 L97.50,241.44 L98.00,241.34 L98.50,241.23 L99.00,241.11 L99.50,240.98 L100.00,240.83 L100.50,240.67 L101.00,240.48 L101.50,240.28 L102.00,240.06 L102.50,239.82 L103.00,239.57 L103.50,239.31 L104.00,239.04 L104.50,238.76 L105.00,238.47 L105.50,238.16 L106.00,237.85 L106.50,237.53 L107.00,237.19 L107.50,236.86 L108.00,236.51 L108.50,236.16 L109.00,235.80 L109.50,235.44 L110.00,235.07 L110.50,234.70 L111.00,234.33 L111.50,233.97 L112.00,233.62 L112.50,233.30 L113.00,233.00 L113.50,232.73 L114.00,232.48 L114.50,232.25 L115.00,232.04 L115.50,231.85 L116.00,231.68 L116.50,231.52 L117.00,231.39 L117.50,231.27 L118.00,231.18 L118.50,231.10 L119.00,231.04 L119.50,230.99 L120.00,230.94 L120.50,230.91 L121.00,230.88 L121.50,230.86 L122.00,230.85 L122.50,230.85 L123.00,230.87 L123.50,230.92 L124.00,230.98 L124.50,231.06 L125.00,231.16 L125.50,231.26 L126.00,231.37 L126.50,231.48 L127.00,231.58 L127.50,231.67 L128.00,231.76 L128.50,231.85 L129.00,231.93 L129.50,232.00 L130.00,232.08 L130.50,232.15 L131.00,232.21 L131.50,232.27 L132.00,232.33 L132.50,232.37 L133.00,232.41 L133.50,232.43 L134.00,232.44 L134.50,232.42 L135.00,232.38 L135.50,232.31 L136.00,232.21 L136.50,232.09 L137.00,231.95 L137.50,231.80 L138.00,231.64 L138.50,231.48 L139.00,231.32 L139.50,231.17 L140.00,231.02 L140.50,230.88 L141.00,230.75 L141.50,230.62 L142.00,230.49 L142.50,230.36 L143.00,230.24 L143.50,230.13 L144.00,230.03 L144.50,229.94 L145.00,229.87 L145.50,229.81 L146.00,229.77 L146.50,229.74 L147.00,229.73 L147.50,229.73 L148.00,229.73 L148.50,229.74 L149.00,229.76 L149.50,229.77 L150.00,229.79 L150.50,229.81 L151.00,229.83 L151.50,229.84 L152.00,229.86 L152.50,229.87 L153.00,229.88 L153.50,229.89 L154.00,229.89 L154.50,229.89 L155.00,229.89 L155.50,229.89 L156.00,229.88 L156.50,229.87 L157.00,229.86 L157.50,229.85 L158.00,229.83 L158.50,229.81 L159.00,229.79 L159.50,229.76 L160.00,229.72 L160.50,229.66 L161.00,229.56 L161.50,229.43 L162.00,229.24 L162.50,229.01 L163.00,228.72 L163.50,228.40 L164.00,228.04 L164.50,227.66 L165.00,227.26 L165.50,226.83 L166.00,226.39 L166.50,225.92 L167.00,225.42 L167.50,224.90 L168.00,224.34 L168.50,223.76 L169.00,223.14 L169.50,222.50 L170.00,221.84 L170.50,221.18 L171.00,220.52 L171.50,219.88 L172.00,219.25 L172.50,218.64 L173.00,218.03 L173.50,217.42 L174.00,216.79 L174.50,216.14 L175.00,215.47 L175.50,214.77 L176.00,214.05 L176.50,213.34 L177.00,212.64 L177.50,211.98 L178.00,211.36 L178.50,210.78 L179.00,210.25 L179.50,209.76 L180.00,209.31 L180.50,208.90 L181.00,208.53 L181.50,208.19 L182.00,207.88 L182.50,207.61 L183.00,207.37 L183.50,207.15 L184.00,206.96 L184.50,206.80 L185.00,206.68 L185.50,206.60 L186.00,206.58 L186.50,206.62 L187.00,206.71 L187.50,206.86 L188.00,207.05 L188.50,207.29 L189.00,207.56 L189.50,207.86 L190.00,208.20 L190.50,208.57 L191.00,208.98 L191.50,209.42 L192.00,209.89 L192.50,210.38 L193.00,210.88 L193.50,211.37 L194.00,211.87 L194.50,212.35 L195.00,212.83 L195.50,213.30 L196.00,213.77 L196.50,214.23 L197.00,214.68 L197.50,215.13 L198.00,215.56 L198.50,215.98 L199.00,216.39 L199.50,216.80 L200.00,217.20 L200.50,217.59 L201.00,217.99 L201.50,218.38 L202.00,218.75 L202.50,219.11 L203.00,219.43 L203.50,219.71 L204.00,219.94 L204.50,220.09 L205.00,220.16 L205.50,220.12 L206.00,219.97 L206.50,219.70 L207.00,219.31 L207.50,218.82 L208.00,218.24 L208.50,217.61 L209.00,216.92 L209.50,216.19 L210.00,215.42 L210.50,214.61 L211.00,213.77 L211.50,212.91 L212.00,212.05 L212.50,211.19 L213.00,210.37 L213.50,209.57 L214.00,208.81 L214.50,208.09 L215.00,207.39 L215.50,206.73 L216.00,206.09 L216.50,205.49 L217.00,204.92 L217.50,204.37 L218.00,203.85 L218.50,203.35 L219.00,202.87 L219.50,202.40 L220.00,201.96 L220.50,201.54 L221.00,201.15 L221.50,200.82 L222.00,200.54 L222.50,200.33 L223.00,200.19 L223.50,200.11 L224.00,200.11 L224.50,200.16 L225.00,200.26 L225.50,200.40 L226.00,200.59 L226.50,200.81 L227.00,201.07 L227.50,201.37 L228.00,201.72 L228.50,202.12 L229.00,202.58 L229.50,203.09 L230.00,203.68 L230.50,204.33 L231.00,205.06 L231.50,205.84 L232.00,206.67 L232.50,207.54 L233.00,208.42 L233.50,209.32 L234.00,210.23 L234.50,211.14 L235.00,212.06 L235.50,212.97 L236.00,213.87 L236.50,214.74 L237.00,215.58 L237.50,216.37 L238.00,217.13 L238.50,217.85 L239.00,218.53 L239.50,219.17 L240.00,219.77 L240.50,220.32 L241.00,220.82 L241.50,221.27 L242.00,221.67 L242.50,222.03 L243.00,222.35 L243.50,222.63 L244.00,222.88 L244.50,223.10 L245.00,223.28 L245.50,223.42 L246.00,223.51 L246.50,223.55 L247.00,223.53 L247.50,223.48 L248.00,223.38 L248.50,223.25 L249.00,223.09 L249.50,222.91 L250.00,222.70 L250.50,222.48 L251.00,222.23 L251.50,221.97 L252.00,221.67 L252.50,221.35 L253.00,221.00 L253.50,220.62 L254.00,220.22 L254.50,219.80 L255.00,219.37 L255.50,218.93 L256.00,218.49 L256.50,218.04 L257.00,217.59 L257.50,217.14 L258.00,216.68 L258.50,216.21 L259.00,215.74 L259.50,215.26 L260.00,214.77 L260.50,214.28 L261.00,213.78 L261.50,213.28 L262.00,212.77 L262.50,212.25 L263.00,211.72 L263.50,211.18 L264.00,210.63 L264.50,210.08 L265.00,209.53 L265.50,209.00 L266.00,208.49 L266.50,208.00 L267.00,207.54 L267.50,207.11 L268.00,206.71 L268.50,206.35 L269.00,206.02 L269.50,205.72 L270.00,205.43 L270.50,205.17 L271.00,204.93 L271.50,204.70 L272.00,204.50 L272.50,204.31 L273.00,204.14 L273.50,203.99 L274.00,203.85 L274.50,203.71 L275.00,203.59 L275.50,203.49 L276.00,203.39 L276.50,203.30 L277.00,203.23 L277.50,203.17 L278.00,203.12 L278.50,203.08 L279.00,203.04 L279.50,203.01 L280.00,202.98 L280.50,202.95 L281.00,202.93 L281.50,202.91 L282.00,202.89 L282.50,202.87 L283.00,202.85 L283.50,202.84 L284.00,202.83 L284.50,202.82 L285.00,202.82 L285.50,202.82 L286.00,202.83 L286.50,202.85 L287.00,202.88 L287.50,202.93 L288.00,202.99 L288.50,203.06 L289.00,203.14 L289.50,203.24 L290.00,203.34 L290.50,203.47 L291.00,203.61 L291.50,203.77 L292.00,203.94 L292.50,204.14 L293.00,204.34 L293.50,204.55 L294.00,204.78 L294.50,205.02 L295.00,205.26 L295.50,205.52 L296.00,205.79 L296.50,206.07 L297.00,206.37 L297.50,206.67 L298.00,206.98 L298.50,207.31 L299.00,207.64 L299.50,207.99 L300.00,208.34 L300.50,208.72 L301.00,209.10 L301.50,209.50 L302.00,209.92 L302.50,210.34 L303.00,210.77 L303.50,211.20 L304.00,211.62 L304.50,212.04 L305.00,212.45 L305.50,212.86 L306.00,213.25 L306.50,213.64 L307.00,214.03 L307.50,214.41 L308.00,214.78 L308.50,215.14 L309.00,215.49 L309.50,215.83 L310.00,216.15 L310.50,216.46 L311.00,216.75 L311.50,217.03 L312.00,217.29 L312.50,217.54 L313.00,217.78 L313.50,218.01 L314.00,218.23 L314.50,218.45 L315.00,218.66 L315.50,218.87 L316.00,219.08 L316.50,219.28 L317.00,219.48 L317.50,219.69 L318.00,219.90 L318.50,220.11 L319.00,220.33 L319.50,220.56 L320.00,220.78 L320.50,220.99 L321.00,221.19 L321.50,221.37 L322.00,221.51 L322.50,221.63 L323.00,221.72 L323.50,221.78 L324.00,221.82 L324.50,221.85 L325.00,221.87 L325.50,221.88 L326.00,221.89 L326.50,221.90 L327.00,221.91 L327.50,221.92 L328.00,221.94 L328.50,221.95 L329.00,221.98 L329.50,222.02 L330.00,222.07 L330.50,222.14 L331.00,222.25 L331.50,222.38 L332.00,222.54 L332.50,222.72 L333.00,222.93 L333.50,223.16 L334.00,223.41 L334.50,223.66 L335.00,223.92 L335.50,224.18 L336.00,224.44 L336.50,224.71 L337.00,224.97 L337.50,225.25 L338.00,225.53 L338.50,225.81 L339.00,226.11 L339.50,226.41 L340.00,226.71 L340.50,227.01 L341.00,227.32 L341.50,227.62 L342.00,227.91 L342.50,228.21 L343.00,228.50 L343.50,228.79 L344.00,229.08 L344.50,229.36 L345.00,229.65 L345.50,229.94 L346.00,230.22 L346.50,230.49 L347.00,230.74 L347.50,230.98 L348.00,231.21 L348.50,231.41 L349.00,231.59 L349.50,231.75 L350.00,231.90 L350.50,232.03 L351.00,232.16 L351.50,232.27 L352.00,232.38 L352.50,232.48 L353.00,232.57 L353.50,232.65 L354.00,232.72 L354.50,232.77 L355.00,232.81 L355.50,232.83 L356.00,232.83 L356.50,232.81 L357.00,232.76 L357.50,232.69 L358.00,232.60 L358.50,232.49 L359.00,232.36 L359.50,232.22 L360.00,232.06 L360.50,231.90 L361.00,231.72 L361.50,231.55 L362.00,231.37 L362.50,231.18 L363.00,230.98 L363.50,230.77 L364.00,230.56 L364.50,230.33 L365.00,230.09 L365.50,229.84 L366.00,229.58 L366.50,229.32 L367.00,229.05 L367.50,228.79 L368.00,228.53 L368.50,228.27 L369.00,228.01 L369.50,227.75 L370.00,227.50 L370.50,227.24 L371.00,226.99 L371.50,226.74 L372.00,226.48 L372.50,226.23 L373.00,225.98 L373.50,225.73 L374.00,225.49 L374.50,225.24 L375.00,225.00 L375.50,224.76 L376.00,224.52 L376.50,224.28 L377.00,224.05 L377.50,223.82 L378.00,223.59 L378.50,223.36 L379.00,223.15 L379.50,222.95 L380.00,222.75 L380.50,222.57 L381.00,222.39 L381.50,222.23 L382.00,222.07 L382.50,221.92 L383.00,221.78 L383.50,221.65 L384.00,221.52 L384.50,221.41 L385.00,221.30 L385.50,221.21 L386.00,221.12 L386.50,221.04 L387.00,220.97 L387.50,220.90 L388.00,220.83 L388.50,220.77 L389.00,220.72 L389.50,220.67 L390.00,220.62 L390.50,220.59 L391.00,220.56 L391.50,220.55 L392.00,220.55 L392.50,220.56 L393.00,220.59 L393.50,220.64 L394.00,220.70 L394.50,220.78 L395.00,220.87 L395.50,220.97 L396.00,221.08 L396.50,221.20 L397.00,221.34 L397.50,221.48 L398.00,221.64 L398.50,221.82 L399.00,222.01 L399.50,222.21 L400.00,222.42 L400.50,222.63 L401.00,222.85 L401.50,223.07 L402.00,223.29 L402.50,223.51 L403.00,223.74 L403.50,223.97 L404.00,224.19 L404.50,224.42 L405.00,224.65 L405.50,224.87 L406.00,225.09 L406.50,225.31 L407.00,225.52 L407.50,225.73 L408.00,225.94 L408.50,226.15 L409.00,226.35 L409.50,226.55 L410.00,226.74 L410.50,226.93 L411.00,227.10 L411.50,227.27 L412.00,227.43 L412.50,227.58 L413.00,227.73 L413.50,227.86 L414.00,227.99 L414.50,228.11 L415.00,228.24 L415.50,228.36 L416.00,228.48 L416.50,228.61 L417.00,228.74 L417.50,228.88 L418.00,229.03 L418.50,229.19 L419.00,229.37 L419.50,229.57 L420.00,229.79 L420.50,230.05 L421.00,230.33 L421.50,230.64 L422.00,230.97 L422.50,231.32 L423.00,231.68 L423.50,232.04 L424.00,232.39 L424.50,232.73 L425.00,233.06 L425.50,233.38 L426.00,233.68 L426.50,233.99 L427.00,234.28 L427.50,234.56 L428.00,234.83 L428.50,235.09 L429.00,235.33 L429.50,235.56 L430.00,235.77 L430.50,235.97 L431.00,236.16 L431.50,236.34 L432.00,236.51 L432.50,236.67 L433.00,236.80 L433.50,236.92 L434.00,237.00 L434.50,237.04 L435.00,237.04 L435.50,236.99 L436.00,236.89 L436.50,236.74 L437.00,236.53 L437.50,236.29 L438.00,236.02 L438.50,235.73 L439.00,235.42 L439.50,235.11 L440.00,234.80 L440.50,234.48 L441.00,234.16 L441.50,233.83 L442.00,233.49 L442.50,233.14 L443.00,232.78 L443.50,232.42 L444.00,232.05 L444.50,231.68 L445.00,231.31 L445.50,230.94 L446.00,230.57 L446.50,230.21 L447.00,229.86 L447.50,229.50 L448.00,229.15 L448.50,228.81 L449.00,228.47 L449.50,228.12 L450.00,227.79 L450.50,227.45 L451.00,227.11 L451.50,226.78 L452.00,226.45 L452.50,226.13 L453.00,225.80 L453.50,225.48 L454.00,225.16 L454.50,224.84 L455.00,224.52 L455.50,224.21 L456.00,223.90 L456.50,223.59 L457.00,223.28 L457.50,222.99 L458.00,222.70 L458.50,222.42 L459.00,222.14 L459.50,221.88 L460.00,221.62 L460.50,221.37 L461.00,221.12 L461.50,220.88 L462.00,220.64 L462.50,220.41 L463.00,220.19 L463.50,219.99 L464.00,219.79 L464.50,219.60 L465.00,219.43 L465.50,219.27 L466.00,219.13 L466.50,218.99 L467.00,218.87 L467.50,218.75 L468.00,218.64 L468.50,218.53 L469.00,218.44 L469.50,218.35 L470.00,218.28 L470.50,218.23 L471.00,218.19 L471.50,218.17 L472.00,218.18 L472.50,218.20 L473.00,218.26 L473.50,218.33 L474.00,218.42 L474.50,218.54 L475.00,218.69 L475.50,218.87 L476.00,219.08 L476.50,219.32 L477.00,219.60 L477.50,219.91 L478.00,220.25 L478.50,220.61 L479.00,221.01 L479.50,221.43 L480.00,221.87 L480.50,222.34 L481.00,222.81 L481.50,223.29 L482.00,223.76 L482.50,224.23 L483.00,224.69 L483.50,225.14 L484.00,225.59 L484.50,226.04 L485.00,226.50 L485.50,226.96 L486.00,227.43 L486.50,227.91 L487.00,228.40 L487.50,228.89 L488.00,229.39 L488.50,229.90 L489.00,230.40 L489.50,230.90 L490.00,231.38 L490.50,231.84 L491.00,232.26 L491.50,232.64 L491.70,232.98 L491.95,233.27 L492.20,233.53 L492.45,233.81 L492.70,234.11 L492.95,234.45 L493.20,234.84 L493.45,235.30 L493.70,236.29 L493.70,250.31 L493.45,251.30 L493.20,251.76 L492.95,252.15 L492.70,252.49 L492.45,252.79 L492.20,253.07 L491.95,253.33 L491.70,253.62 L491.50,253.96 L491.00,254.34 L490.50,254.76 L490.00,255.22 L489.50,255.70 L489.00,256.20 L488.50,256.70 L488.00,257.21 L487.50,257.71 L487.00,258.20 L486.50,258.69 L486.00,259.17 L485.50,259.64 L485.00,260.10 L484.50,260.56 L484.00,261.01 L483.50,261.46 L483.00,261.91 L482.50,262.37 L482.00,262.84 L481.50,263.31 L481.00,263.79 L480.50,264.26 L480.00,264.73 L479.50,265.17 L479.00,265.59 L478.50,265.99 L478.00,266.35 L477.50,266.69 L477.00,267.00 L476.50,267.28 L476.00,267.52 L475.50,267.73 L475.00,267.91 L474.50,268.06 L474.00,268.18 L473.50,268.27 L473.00,268.34 L472.50,268.40 L472.00,268.42 L471.50,268.43 L471.00,268.41 L470.50,268.37 L470.00,268.32 L469.50,268.25 L469.00,268.16 L468.50,268.07 L468.00,267.96 L467.50,267.85 L467.00,267.73 L466.50,267.61 L466.00,267.47 L465.50,267.33 L465.00,267.17 L464.50,267.00 L464.00,266.81 L463.50,266.61 L463.00,266.41 L462.50,266.19 L462.00,265.96 L461.50,265.72 L461.00,265.48 L460.50,265.23 L460.00,264.98 L459.50,264.72 L459.00,264.46 L458.50,264.18 L458.00,263.90 L457.50,263.61 L457.00,263.32 L456.50,263.01 L456.00,262.70 L455.50,262.39 L455.00,262.08 L454.50,261.76 L454.00,261.44 L453.50,261.12 L453.00,260.80 L452.50,260.47 L452.00,260.15 L451.50,259.82 L451.00,259.49 L450.50,259.15 L450.00,258.81 L449.50,258.48 L449.00,258.13 L448.50,257.79 L448.00,257.45 L447.50,257.10 L447.00,256.74 L446.50,256.39 L446.00,256.03 L445.50,255.66 L445.00,255.29 L444.50,254.92 L444.00,254.55 L443.50,254.18 L443.00,253.82 L442.50,253.46 L442.00,253.11 L441.50,252.77 L441.00,252.44 L440.50,252.12 L440.00,251.80 L439.50,251.49 L439.00,251.18 L438.50,250.87 L438.00,250.58 L437.50,250.31 L437.00,250.07 L436.50,249.86 L436.00,249.71 L435.50,249.61 L435.00,249.56 L434.50,249.56 L434.00,249.60 L433.50,249.68 L433.00,249.80 L432.50,249.93 L432.00,250.09 L431.50,250.26 L431.00,250.44 L430.50,250.63 L430.00,250.83 L429.50,251.04 L429.00,251.27 L428.50,251.51 L428.00,251.77 L427.50,252.04 L427.00,252.32 L426.50,252.61 L426.00,252.92 L425.50,253.22 L425.00,253.54 L424.50,253.87 L424.00,254.21 L423.50,254.56 L423.00,254.92 L422.50,255.28 L422.00,255.63 L421.50,255.96 L421.00,256.27 L420.50,256.55 L420.00,256.81 L419.50,257.03 L419.00,257.23 L418.50,257.41 L418.00,257.57 L417.50,257.72 L417.00,257.86 L416.50,257.99 L416.00,258.12 L415.50,258.24 L415.00,258.36 L414.50,258.49 L414.00,258.61 L413.50,258.74 L413.00,258.87 L412.50,259.02 L412.00,259.17 L411.50,259.33 L411.00,259.50 L410.50,259.67 L410.00,259.86 L409.50,260.05 L409.00,260.25 L408.50,260.45 L408.00,260.66 L407.50,260.87 L407.00,261.08 L406.50,261.29 L406.00,261.51 L405.50,261.73 L405.00,261.95 L404.50,262.18 L404.00,262.41 L403.50,262.63 L403.00,262.86 L402.50,263.09 L402.00,263.31 L401.50,263.53 L401.00,263.75 L400.50,263.97 L400.00,264.18 L399.50,264.39 L399.00,264.59 L398.50,264.78 L398.00,264.96 L397.50,265.12 L397.00,265.26 L396.50,265.40 L396.00,265.52 L395.50,265.63 L395.00,265.73 L394.50,265.82 L394.00,265.90 L393.50,265.96 L393.00,266.01 L392.50,266.04 L392.00,266.05 L391.50,266.05 L391.00,266.04 L390.50,266.01 L390.00,265.98 L389.50,265.93 L389.00,265.88 L388.50,265.83 L388.00,265.77 L387.50,265.70 L387.00,265.63 L386.50,265.56 L386.00,265.48 L385.50,265.39 L385.00,265.30 L384.50,265.19 L384.00,265.08 L383.50,264.95 L383.00,264.82 L382.50,264.68 L382.00,264.53 L381.50,264.37 L381.00,264.21 L380.50,264.03 L380.00,263.85 L379.50,263.65 L379.00,263.45 L378.50,263.24 L378.00,263.01 L377.50,262.78 L377.00,262.55 L376.50,262.32 L376.00,262.08 L375.50,261.84 L375.00,261.60 L374.50,261.36 L374.00,261.11 L373.50,260.87 L373.00,260.62 L372.50,260.37 L372.00,260.12 L371.50,259.86 L371.00,259.61 L370.50,259.36 L370.00,259.10 L369.50,258.85 L369.00,258.59 L368.50,258.33 L368.00,258.07 L367.50,257.81 L367.00,257.55 L366.50,257.28 L366.00,257.02 L365.50,256.76 L365.00,256.51 L364.50,256.27 L364.00,256.04 L363.50,255.83 L363.00,255.62 L362.50,255.42 L362.00,255.23 L361.50,255.05 L361.00,254.88 L360.50,254.70 L360.00,254.54 L359.50,254.38 L359.00,254.24 L358.50,254.11 L358.00,254.00 L357.50,253.91 L357.00,253.84 L356.50,253.79 L356.00,253.77 L355.50,253.77 L355.00,253.79 L354.50,253.83 L354.00,253.88 L353.50,253.95 L353.00,254.03 L352.50,254.12 L352.00,254.22 L351.50,254.33 L351.00,254.44 L350.50,254.57 L350.00,254.70 L349.50,254.85 L349.00,255.01 L348.50,255.19 L348.00,255.39 L347.50,255.62 L347.00,255.86 L346.50,256.11 L346.00,256.38 L345.50,256.66 L345.00,256.95 L344.50,257.24 L344.00,257.52 L343.50,257.81 L343.00,258.10 L342.50,258.39 L342.00,258.69 L341.50,258.98 L341.00,259.28 L340.50,259.59 L340.00,259.89 L339.50,260.19 L339.00,260.49 L338.50,260.79 L338.00,261.07 L337.50,261.35 L337.00,261.63 L336.50,261.89 L336.00,262.16 L335.50,262.42 L335.00,262.68 L334.50,262.94 L334.00,263.19 L333.50,263.44 L333.00,263.67 L332.50,263.88 L332.00,264.06 L331.50,264.22 L331.00,264.35 L330.50,264.46 L330.00,264.53 L329.50,264.58 L329.00,264.62 L328.50,264.65 L328.00,264.66 L327.50,264.68 L327.00,264.69 L326.50,264.70 L326.00,264.71 L325.50,264.72 L325.00,264.73 L324.50,264.75 L324.00,264.78 L323.50,264.82 L323.00,264.88 L322.50,264.97 L322.00,265.09 L321.50,265.23 L321.00,265.41 L320.50,265.61 L320.00,265.82 L319.50,266.04 L319.00,266.27 L318.50,266.49 L318.00,266.70 L317.50,266.91 L317.00,267.12 L316.50,267.32 L316.00,267.52 L315.50,267.73 L315.00,267.94 L314.50,268.15 L314.00,268.37 L313.50,268.59 L313.00,268.82 L312.50,269.06 L312.00,269.31 L311.50,269.57 L311.00,269.85 L310.50,270.14 L310.00,270.45 L309.50,270.77 L309.00,271.11 L308.50,271.46 L308.00,271.82 L307.50,272.19 L307.00,272.57 L306.50,272.96 L306.00,273.35 L305.50,273.74 L305.00,274.15 L304.50,274.56 L304.00,274.98 L303.50,275.40 L303.00,275.83 L302.50,276.26 L302.00,276.68 L301.50,277.10 L301.00,277.50 L300.50,277.88 L300.00,278.26 L299.50,278.61 L299.00,278.96 L298.50,279.29 L298.00,279.62 L297.50,279.93 L297.00,280.23 L296.50,280.53 L296.00,280.81 L295.50,281.08 L295.00,281.34 L294.50,281.58 L294.00,281.82 L293.50,282.05 L293.00,282.26 L292.50,282.46 L292.00,282.66 L291.50,282.83 L291.00,282.99 L290.50,283.13 L290.00,283.26 L289.50,283.36 L289.00,283.46 L288.50,283.54 L288.00,283.61 L287.50,283.67 L287.00,283.72 L286.50,283.75 L286.00,283.77 L285.50,283.78 L285.00,283.78 L284.50,283.78 L284.00,283.77 L283.50,283.76 L283.00,283.75 L282.50,283.73 L282.00,283.71 L281.50,283.69 L281.00,283.67 L280.50,283.65 L280.00,283.62 L279.50,283.59 L279.00,283.56 L278.50,283.52 L278.00,283.48 L277.50,283.43 L277.00,283.37 L276.50,283.30 L276.00,283.21 L275.50,283.11 L275.00,283.01 L274.50,282.89 L274.00,282.75 L273.50,282.61 L273.00,282.46 L272.50,282.29 L272.00,282.10 L271.50,281.90 L271.00,281.67 L270.50,281.43 L270.00,281.17 L269.50,280.88 L269.00,280.58 L268.50,280.25 L268.00,279.89 L267.50,279.49 L267.00,279.06 L266.50,278.60 L266.00,278.11 L265.50,277.60 L265.00,277.07 L264.50,276.52 L264.00,275.97 L263.50,275.42 L263.00,274.88 L262.50,274.35 L262.00,273.83 L261.50,273.32 L261.00,272.82 L260.50,272.32 L260.00,271.83 L259.50,271.34 L259.00,270.86 L258.50,270.39 L258.00,269.92 L257.50,269.46 L257.00,269.01 L256.50,268.56 L256.00,268.11 L255.50,267.67 L255.00,267.23 L254.50,266.80 L254.00,266.38 L253.50,265.98 L253.00,265.60 L252.50,265.25 L252.00,264.93 L251.50,264.63 L251.00,264.37 L250.50,264.12 L250.00,263.90 L249.50,263.69 L249.00,263.51 L248.50,263.35 L248.00,263.22 L247.50,263.12 L247.00,263.07 L246.50,263.05 L246.00,263.09 L245.50,263.18 L245.00,263.32 L244.50,263.50 L244.00,263.72 L243.50,263.97 L243.00,264.25 L242.50,264.57 L242.00,264.93 L241.50,265.33 L241.00,265.78 L240.50,266.28 L240.00,266.83 L239.50,267.43 L239.00,268.07 L238.50,268.75 L238.00,269.47 L237.50,270.23 L237.00,271.02 L236.50,271.86 L236.00,272.73 L235.50,273.63 L235.00,274.54 L234.50,275.46 L234.00,276.37 L233.50,277.28 L233.00,278.18 L232.50,279.06 L232.00,279.93 L231.50,280.76 L231.00,281.54 L230.50,282.27 L230.00,282.92 L229.50,283.51 L229.00,284.02 L228.50,284.48 L228.00,284.88 L227.50,285.23 L227.00,285.53 L226.50,285.79 L226.00,286.01 L225.50,286.20 L225.00,286.34 L224.50,286.44 L224.00,286.49 L223.50,286.49 L223.00,286.41 L222.50,286.27 L222.00,286.06 L221.50,285.78 L221.00,285.45 L220.50,285.06 L220.00,284.64 L219.50,284.20 L219.00,283.73 L218.50,283.25 L218.00,282.75 L217.50,282.23 L217.00,281.68 L216.50,281.11 L216.00,280.51 L215.50,279.87 L215.00,279.21 L214.50,278.51 L214.00,277.79 L213.50,277.03 L213.00,276.23 L212.50,275.41 L212.00,274.55 L211.50,273.69 L211.00,272.83 L210.50,271.99 L210.00,271.18 L209.50,270.41 L209.00,269.68 L208.50,268.99 L208.00,268.36 L207.50,267.78 L207.00,267.29 L206.50,266.90 L206.00,266.63 L205.50,266.48 L205.00,266.44 L204.50,266.51 L204.00,266.66 L203.50,266.89 L203.00,267.17 L202.50,267.49 L202.00,267.85 L201.50,268.22 L201.00,268.61 L200.50,269.01 L200.00,269.40 L199.50,269.80 L199.00,270.21 L198.50,270.62 L198.00,271.04 L197.50,271.47 L197.00,271.92 L196.50,272.37 L196.00,272.83 L195.50,273.30 L195.00,273.77 L194.50,274.25 L194.00,274.73 L193.50,275.23 L193.00,275.72 L192.50,276.22 L192.00,276.71 L191.50,277.18 L191.00,277.62 L190.50,278.03 L190.00,278.40 L189.50,278.74 L189.00,279.04 L188.50,279.31 L188.00,279.55 L187.50,279.74 L187.00,279.89 L186.50,279.98 L186.00,280.02 L185.50,280.00 L185.00,279.92 L184.50,279.80 L184.00,279.64 L183.50,279.45 L183.00,279.23 L182.50,278.99 L182.00,278.72 L181.50,278.41 L181.00,278.07 L180.50,277.70 L180.00,277.29 L179.50,276.84 L179.00,276.35 L178.50,275.82 L178.00,275.24 L177.50,274.62 L177.00,273.96 L176.50,273.26 L176.00,272.55 L175.50,271.83 L175.00,271.13 L174.50,270.46 L174.00,269.81 L173.50,269.18 L173.00,268.57 L172.50,267.96 L172.00,267.35 L171.50,266.72 L171.00,266.08 L170.50,265.42 L170.00,264.76 L169.50,264.10 L169.00,263.46 L168.50,262.84 L168.00,262.26 L167.50,261.70 L167.00,261.18 L166.50,260.68 L166.00,260.21 L165.50,259.77 L165.00,259.34 L164.50,258.94 L164.00,258.56 L163.50,258.20 L163.00,257.88 L162.50,257.59 L162.00,257.36 L161.50,257.17 L161.00,257.04 L160.50,256.94 L160.00,256.88 L159.50,256.84 L159.00,256.81 L158.50,256.79 L158.00,256.77 L157.50,256.75 L157.00,256.74 L156.50,256.73 L156.00,256.72 L155.50,256.71 L155.00,256.71 L154.50,256.71 L154.00,256.71 L153.50,256.71 L153.00,256.72 L152.50,256.73 L152.00,256.74 L151.50,256.76 L151.00,256.77 L150.50,256.79 L150.00,256.81 L149.50,256.83 L149.00,256.84 L148.50,256.86 L148.00,256.87 L147.50,256.87 L147.00,256.87 L146.50,256.86 L146.00,256.83 L145.50,256.79 L145.00,256.73 L144.50,256.66 L144.00,256.57 L143.50,256.47 L143.00,256.36 L142.50,256.24 L142.00,256.11 L141.50,255.98 L141.00,255.85 L140.50,255.72 L140.00,255.58 L139.50,255.43 L139.00,255.28 L138.50,255.12 L138.00,254.96 L137.50,254.80 L137.00,254.65 L136.50,254.51 L136.00,254.39 L135.50,254.29 L135.00,254.22 L134.50,254.18 L134.00,254.16 L133.50,254.17 L133.00,254.19 L132.50,254.23 L132.00,254.27 L131.50,254.33 L131.00,254.39 L130.50,254.45 L130.00,254.52 L129.50,254.60 L129.00,254.67 L128.50,254.75 L128.00,254.84 L127.50,254.93 L127.00,255.02 L126.50,255.12 L126.00,255.23 L125.50,255.34 L125.00,255.44 L124.50,255.54 L124.00,255.62 L123.50,255.68 L123.00,255.73 L122.50,255.75 L122.00,255.75 L121.50,255.74 L121.00,255.72 L120.50,255.69 L120.00,255.66 L119.50,255.61 L119.00,255.56 L118.50,255.50 L118.00,255.42 L117.50,255.33 L117.00,255.21 L116.50,255.08 L116.00,254.92 L115.50,254.75 L115.00,254.56 L114.50,254.35 L114.00,254.12 L113.50,253.87 L113.00,253.60 L112.50,253.30 L112.00,252.98 L111.50,252.63 L111.00,252.27 L110.50,251.90 L110.00,251.53 L109.50,251.16 L109.00,250.80 L108.50,250.44 L108.00,250.09 L107.50,249.74 L107.00,249.41 L106.50,249.07 L106.00,248.75 L105.50,248.44 L105.00,248.13 L104.50,247.84 L104.00,247.56 L103.50,247.29 L103.00,247.03 L102.50,246.78 L102.00,246.54 L101.50,246.32 L101.00,246.12 L100.50,245.93 L100.00,245.77 L99.50,245.62 L99.00,245.49 L98.50,245.37 L98.00,245.26 L97.50,245.16 L97.00,245.08 L96.50,245.00 L96.00,244.94 L95.50,244.89 L95.00,244.86 L94.50,244.85 L94.00,244.85 L93.50,244.87 L93.00,244.89 L92.50,244.93 L92.00,244.98 L91.50,245.04 L91.00,245.11 L90.50,245.19 L90.00,245.28 L89.50,245.38 L89.00,245.51 L88.50,245.64 L88.00,245.78 L87.50,245.93 L87.00,246.09 L86.50,246.25 L86.00,246.42 L85.50,246.59 L85.00,246.77 L84.50,246.95 L84.00,247.13 L83.50,247.31 L83.00,247.48 L82.50,247.64 L82.00,247.79 L81.50,247.93 L81.00,248.06 L80.50,248.18 L80.00,248.29 L79.50,248.39 L79.00,248.49 L78.50,248.57 L78.00,248.65 L77.50,248.72 L77.00,248.78 L76.50,248.83 L76.00,248.86 L75.50,248.88 L75.00,248.89 L74.50,248.89 L74.00,248.89 L73.50,248.89 L73.00,248.88 L72.50,248.87 L72.00,248.85 L71.50,248.83 L71.25,248.81 L71.00,248.78 L70.75,248.71 L70.50,248.61 L70.25,248.45 L70.00,248.23 L69.75,247.91 L69.50,247.03Z" fill="#d6ddef"/>
<circle cx="245.90" cy="50.25" r="3.5" fill="#f08da2"/>
<circle cx="254.20" cy="50.25" r="3.5" fill="#d03df0"/>
<circle cx="290.80" cy="50.25" r="3.5" fill="#d03df0"/>
<circle cx="298.80" cy="39.38" r="3.5" fill="#d03df0"/>
<circle cx="298.80" cy="46.62" r="3.5" fill="#d03df0"/>
<circle cx="298.80" cy="53.88" r="3.5" fill="#d03df0"/>
<circle cx="298.80" cy="61.12" r="3.5" fill="#5073ec"/>
<circle cx="328.50" cy="35.75" r="3.5" fill="#d03df0"/>
<circle cx="328.50" cy="43.00" r="3.5" fill="#d03df0"/>
<circle cx="328.50" cy="50.25" r="3.5" fill="#d03df0"/>
<circle cx="328.50" cy="57.50" r="3.5" fill="#d03df0"/>
<circle cx="328.50" cy="64.75" r="3.5" fill="#d03df0"/>
<circle cx="350.20" cy="50.25" r="3.5" fill="#d03df0"/>
<circle cx="359.00" cy="46.62" r="3.5" fill="#d03df0"/>
<circle cx="359.00" cy="53.88" r="3.5" fill="#d03df0"/>
<circle cx="385.10" cy="50.25" r="3.5" fill="#d03df0"/>
<circle cx="395.50" cy="50.25" r="3.5" fill="#d03df0"/>
<circle cx="402.90" cy="50.25" r="3.5" fill="#d03df0"/>
<circle cx="421.00" cy="50.25" r="3.5" fill="#d03df0"/>
<circle cx="430.10" cy="46.62" r="3.5" fill="#53c246"/>
<circle cx="430.10" cy="53.88" r="3.5" fill="#d03df0"/>
<circle cx="476.20" cy="50.25" r="3.5" fill="#5073ec"/>
<circle cx="505.00" cy="50.25" r="3.5" fill="#53c246"/>
<circle cx="527.20" cy="50.25" r="3.5" fill="#53c246"/>
<circle cx="567.30" cy="50.25" r="3.5" fill="#5073ec"/>
<circle cx="409.90" cy="146.90" r="3.5" fill="#55cc90"/>
<circle cx="430.00" cy="146.90" r="3.5" fill="#55cc90"/>
<circle cx="442.30" cy="146.90" r="3.5" fill="#55cc90"/>
<circle cx="464.50" cy="146.90" r="3.5" fill="#55cc90"/>
<circle cx="490.40" cy="146.90" r="3.5" fill="#55cc90"/>
<circle cx="498.20" cy="146.90" r="3.5" fill="#55cc90"/>
<circle cx="507.40" cy="146.90" r="3.5" fill="#55cc90"/>
<circle cx="563.60" cy="146.90" r="3.5" fill="#55cc90"/>
<circle cx="616.40" cy="146.90" r="3.5" fill="#55cc90"/>
<circle cx="75.40" cy="243.30" r="3.5" fill="#f0304a"/>
<circle cx="120.20" cy="239.68" r="3.5" fill="#d47d2e"/>
<circle cx="120.20" cy="246.93" r="3.5" fill="#f0304a"/>
<circle cx="146.40" cy="239.68" r="3.5" fill="#d47d2e"/>
<circle cx="146.40" cy="246.93" r="3.5" fill="#f0304a"/>
<circle cx="164.90" cy="243.30" r="3.5" fill="#d47d2e"/>
<circle cx="179.60" cy="236.05" r="3.5" fill="#f0304a"/>
<circle cx="179.60" cy="243.30" r="3.5" fill="#d47d2e"/>
<circle cx="179.60" cy="250.55" r="3.5" fill="#d47d2e"/>
<circle cx="191.30" cy="232.43" r="3.5" fill="#f0304a"/>
<circle cx="191.30" cy="239.68" r="3.5" fill="#d47d2e"/>
<circle cx="191.30" cy="246.93" r="3.5" fill="#d47d2e"/>
<circle cx="191.30" cy="254.18" r="3.5" fill="#f0304a"/>
<circle cx="209.80" cy="243.30" r="3.5" fill="#f0304a"/>
<circle cx="217.60" cy="243.30" r="3.5" fill="#f0304a"/>
<circle cx="225.50" cy="225.18" r="3.5" fill="#f0304a"/>
<circle cx="225.50" cy="232.43" r="3.5" fill="#f0304a"/>
<circle cx="225.50" cy="239.68" r="3.5" fill="#f0304a"/>
<circle cx="225.50" cy="246.93" r="3.5" fill="#f0304a"/>
<circle cx="225.50" cy="254.18" r="3.5" fill="#f0304a"/>
<circle cx="225.50" cy="261.43" r="3.5" fill="#f0304a"/>
<circle cx="246.20" cy="243.30" r="3.5" fill="#f0304a"/>
<circle cx="254.00" cy="243.30" r="3.5" fill="#f0304a"/>
<circle cx="267.40" cy="232.43" r="3.5" fill="#f0304a"/>
<circle cx="267.40" cy="239.68" r="3.5" fill="#f0304a"/>
<circle cx="267.40" cy="246.93" r="3.5" fill="#f0304a"/>
<circle cx="267.40" cy="254.18" r="3.5" fill="#f0304a"/>
<circle cx="275.40" cy="243.30" r="3.5" fill="#d47d2e"/>
<circle cx="283.20" cy="239.68" r="3.5" fill="#f0304a"/>
<circle cx="283.20" cy="246.93" r="3.5" fill="#f0304a"/>
<circle cx="291.10" cy="239.68" r="3.5" fill="#f0304a"/>
<circle cx="291.10" cy="246.93" r="3.5" fill="#f0304a"/>
<circle cx="299.40" cy="236.05" r="3.5" fill="#f0304a"/>
<circle cx="299.40" cy="243.30" r="3.5" fill="#f0304a"/>
<circle cx="299.40" cy="250.55" r="3.5" fill="#f0304a"/>
<circle cx="312.90" cy="236.05" r="3.5" fill="#f0304a"/>
<circle cx="312.90" cy="243.30" r="3.5" fill="#f0304a"/>
<circle cx="312.90" cy="250.55" r="3.5" fill="#f0304a"/>
<circle cx="330.90" cy="243.30" r="3.5" fill="#d47d2e"/>
<circle cx="338.80" cy="239.68" r="3.5" fill="#d47d2e"/>
<circle cx="338.80" cy="246.93" r="3.5" fill="#f0304a"/>
<circle cx="354.70" cy="243.30" r="3.5" fill="#f0304a"/>
<circle cx="373.30" cy="239.68" r="3.5" fill="#f0304a"/>
<circle cx="373.30" cy="246.93" r="3.5" fill="#f0304a"/>
<circle cx="387.60" cy="243.30" r="3.5" fill="#f0304a"/>
<circle cx="395.50" cy="243.30" r="3.5" fill="#f0304a"/>
<circle cx="403.40" cy="239.68" r="3.5" fill="#d47d2e"/>
<circle cx="403.40" cy="246.93" r="3.5" fill="#f0304a"/>
<circle cx="418.30" cy="239.68" r="3.5" fill="#d47d2e"/>
<circle cx="418.30" cy="246.93" r="3.5" fill="#d47d2e"/>
<circle cx="450.40" cy="243.30" r="3.5" fill="#d47d2e"/>
<circle cx="458.10" cy="243.30" r="3.5" fill="#f0304a"/>
<circle cx="466.50" cy="243.30" r="3.5" fill="#d47d2e"/>
<circle cx="474.70" cy="236.05" r="3.5" fill="#f0304a"/>
<circle cx="474.70" cy="243.30" r="3.5" fill="#d47d2e"/>
<circle cx="474.70" cy="250.55" r="3.5" fill="#f0304a"/>
<circle cx="489.40" cy="243.30" r="3.5" fill="#d47d2e"/>
<g fill="none" stroke="#b0b0b0" stroke-width="1">
<path d="M68.5,2.5 H683.5 V291.5 H68.5 Z"/>
<line x1="68.5" y1="291.5" x2="68.5" y2="293.0"/>
</g>
<rect x="66.8" y="134" width="1.2" height="1.6" fill="#a8b6d0"/>
<rect x="66.8" y="154.4" width="1.2" height="1.6" fill="#a8b6d0"/>
<rect x="66.8" y="249.6" width="1.2" height="1.4" fill="#b8c4da"/>
<line x1="120.15" y1="291.5" x2="120.15" y2="292.8" stroke="#b8b8b8" stroke-width="1"/>
<line x1="146.39" y1="291.5" x2="146.39" y2="292.8" stroke="#b8b8b8" stroke-width="1"/>
<line x1="165.01" y1="291.5" x2="165.01" y2="292.8" stroke="#b8b8b8" stroke-width="1"/>
<line x1="179.45" y1="291.5" x2="179.45" y2="292.8" stroke="#b8b8b8" stroke-width="1"/>
<line x1="191.24" y1="291.5" x2="191.24" y2="292.8" stroke="#b8b8b8" stroke-width="1"/>
<line x1="201.22" y1="291.5" x2="201.22" y2="292.8" stroke="#b8b8b8" stroke-width="1"/>
<line x1="209.86" y1="291.5" x2="209.86" y2="292.8" stroke="#b8b8b8" stroke-width="1"/>
<line x1="217.48" y1="291.5" x2="217.48" y2="292.8" stroke="#b8b8b8" stroke-width="1"/>
<line x1="269.15" y1="291.5" x2="269.15" y2="292.8" stroke="#b8b8b8" stroke-width="1"/>
<line x1="295.39" y1="291.5" x2="295.39" y2="292.8" stroke="#b8b8b8" stroke-width="1"/>
<line x1="314.01" y1="291.5" x2="314.01" y2="292.8" stroke="#b8b8b8" stroke-width="1"/>
<line x1="328.45" y1="291.5" x2="328.45" y2="292.8" stroke="#b8b8b8" stroke-width="1"/>
<line x1="340.24" y1="291.5" x2="340.24" y2="292.8" stroke="#b8b8b8" stroke-width="1"/>
<line x1="350.22" y1="291.5" x2="350.22" y2="292.8" stroke="#b8b8b8" stroke-width="1"/>
<line x1="358.86" y1="291.5" x2="358.86" y2="292.8" stroke="#b8b8b8" stroke-width="1"/>
<line x1="366.48" y1="291.5" x2="366.48" y2="292.8" stroke="#b8b8b8" stroke-width="1"/>
<line x1="418.15" y1="291.5" x2="418.15" y2="292.8" stroke="#b8b8b8" stroke-width="1"/>
<line x1="444.39" y1="291.5" x2="444.39" y2="292.8" stroke="#b8b8b8" stroke-width="1"/>
<line x1="463.01" y1="291.5" x2="463.01" y2="292.8" stroke="#b8b8b8" stroke-width="1"/>
<line x1="477.45" y1="291.5" x2="477.45" y2="292.8" stroke="#b8b8b8" stroke-width="1"/>
<line x1="489.24" y1="291.5" x2="489.24" y2="292.8" stroke="#b8b8b8" stroke-width="1"/>
<line x1="499.22" y1="291.5" x2="499.22" y2="292.8" stroke="#b8b8b8" stroke-width="1"/>
<line x1="507.86" y1="291.5" x2="507.86" y2="292.8" stroke="#b8b8b8" stroke-width="1"/>
<line x1="515.48" y1="291.5" x2="515.48" y2="292.8" stroke="#b8b8b8" stroke-width="1"/>
<line x1="567.15" y1="291.5" x2="567.15" y2="292.8" stroke="#b8b8b8" stroke-width="1"/>
<line x1="593.39" y1="291.5" x2="593.39" y2="292.8" stroke="#b8b8b8" stroke-width="1"/>
<line x1="612.01" y1="291.5" x2="612.01" y2="292.8" stroke="#b8b8b8" stroke-width="1"/>
<line x1="626.45" y1="291.5" x2="626.45" y2="292.8" stroke="#b8b8b8" stroke-width="1"/>
<line x1="638.24" y1="291.5" x2="638.24" y2="292.8" stroke="#b8b8b8" stroke-width="1"/>
<line x1="648.22" y1="291.5" x2="648.22" y2="292.8" stroke="#b8b8b8" stroke-width="1"/>
<line x1="656.86" y1="291.5" x2="656.86" y2="292.8" stroke="#b8b8b8" stroke-width="1"/>
<line x1="664.48" y1="291.5" x2="664.48" y2="292.8" stroke="#b8b8b8" stroke-width="1"/>
<line x1="75.30" y1="291.5" x2="75.30" y2="293.9" stroke="#999" stroke-width="1"/>
<line x1="224.30" y1="291.5" x2="224.30" y2="293.9" stroke="#999" stroke-width="1"/>
<line x1="373.30" y1="291.5" x2="373.30" y2="293.9" stroke="#999" stroke-width="1"/>
<line x1="522.30" y1="291.5" x2="522.30" y2="293.9" stroke="#999" stroke-width="1"/>
<line x1="671.30" y1="291.5" x2="671.30" y2="293.9" stroke="#999" stroke-width="1"/>
<text transform="translate(75.30,304.5) scale(0.91,1)" text-anchor="middle" class="tk">0.01</text>
<text transform="translate(224.30,304.5) scale(0.91,1)" text-anchor="middle" class="tk">0.1</text>
<text transform="translate(373.30,304.5) scale(0.91,1)" text-anchor="middle" class="tk">1</text>
<text transform="translate(522.30,304.5) scale(0.91,1)" text-anchor="middle" class="tk">10</text>
<text transform="translate(671.30,304.5) scale(0.91,1)" text-anchor="middle" class="tk">100</text>
<circle cx="605.5" cy="187.50" r="3.8" fill="#4cb046"/>
<text x="611.5" y="192.40" class="lg">GDVN</text>
<circle cx="605.5" cy="203.10" r="3.8" fill="#4a6bdc"/>
<text x="611.5" y="208.00" class="lg">Droplets</text>
<circle cx="605.5" cy="218.70" r="3.8" fill="#c23ee2"/>
<text x="611.5" y="223.60" class="lg">Viscous</text>
<circle cx="605.5" cy="234.30" r="3.8" fill="#ee8ea4"/>
<text x="611.5" y="239.20" class="lg">Electrospin</text>
<circle cx="605.5" cy="249.90" r="3.8" fill="#50c08a"/>
<text x="611.5" y="254.80" class="lg">Tape-Drive</text>
<circle cx="605.5" cy="265.50" r="3.8" fill="#cc7a30"/>
<text x="611.5" y="270.40" class="lg">Silicon</text>
<circle cx="605.5" cy="281.10" r="3.8" fill="#e8334a"/>
<text x="611.5" y="286.00" class="lg">Polymer</text>
<g class="yl" text-anchor="middle">
<text x="30" y="48.1">Liquid</text><text x="30" y="65.2">Injection</text>
<text x="30" y="146.0">Hybrid</text><text x="30" y="163.3">Injection</text>
<text x="30" y="242.9">Fixed-</text><text x="30" y="259.0">target</text>
</g>
<text x="375.5" y="319.2" text-anchor="middle" class="ti">Sample Consumption (mg)</text>
</svg>
</body></html>
